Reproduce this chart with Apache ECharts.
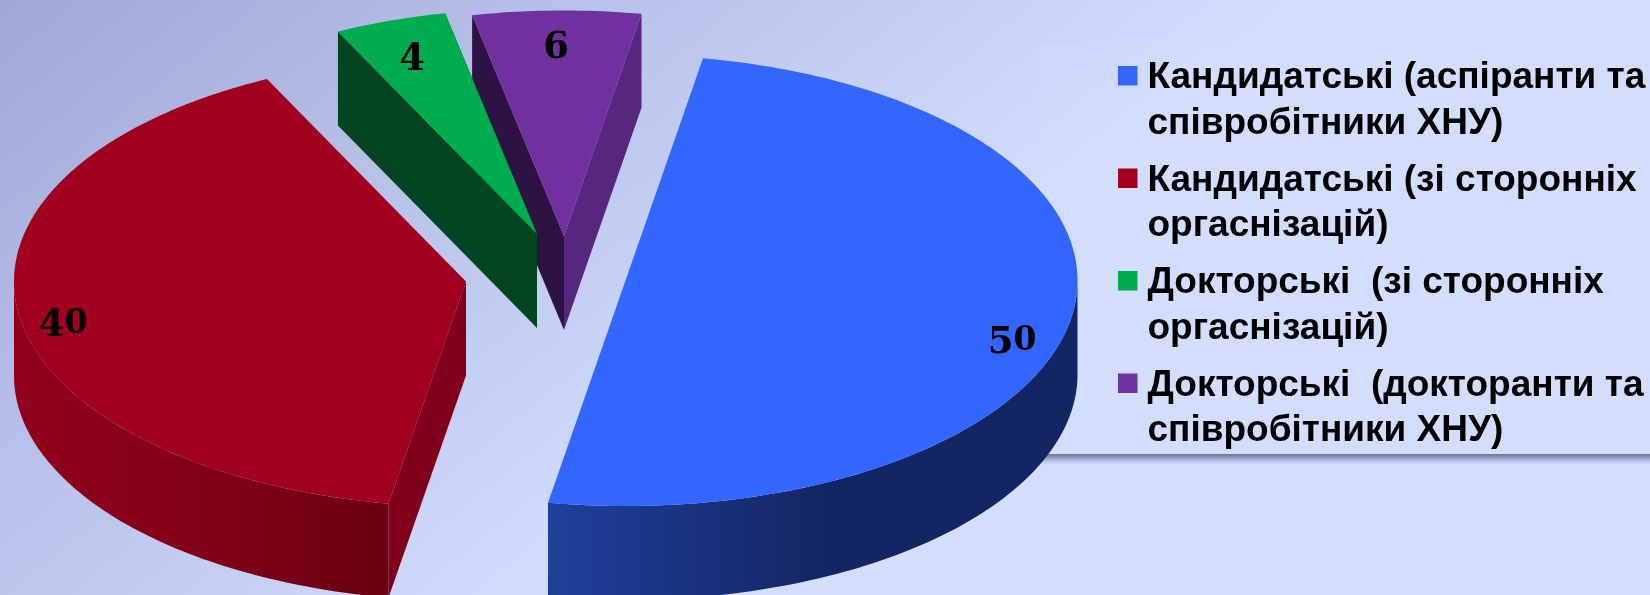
<!DOCTYPE html>
<html>
<head>
<meta charset="utf-8">
<style>html,body{margin:0;padding:0;background:#d3deff}#c{width:1650px;height:595px}</style>
<script src="https://cdn.jsdelivr.net/npm/echarts@6/dist/echarts.min.js"></script>
</head>
<body>
<div id="c"></div>
<script>
const categories = [
  'Кандидатські (аспіранти та\nспівробітники ХНУ)',
  'Кандидатські (зі сторонніх\nоргаснізацій)',
  'Докторські  (зі сторонніх\nоргаснізацій)',
  'Докторські  (докторанти та\nспівробітники ХНУ)'
];
const values = [50, 40, 4, 6];
const colors = ['#3366ff', '#a2001f', '#00ad4e', '#7030a0'];

// 3D projection of the pie
const FIRST_ANGLE = 9.87, RX = 452, RY = 225.5, DEPTH = 94;
const CENTERS = [[625.5, 280.5], [466, 281.5], [537, 234], [564, 236]];
const LABELS = [[1012, 343], [63, 326], [412, 60], [556, 48]];
const total = values.reduce((a, b) => a + b, 0);
const starts = values.map((_, i) => FIRST_ANGLE + values.slice(0, i).reduce((a, b) => a + b, 0) / total * 360);

function pt(c, deg, dy) {
  const r = deg * Math.PI / 180;
  return [c[0] + RX * Math.sin(r), c[1] - RY * Math.cos(r) + (dy || 0)];
}
function arc(c, a, b, dy) {
  const n = Math.max(2, Math.ceil(Math.abs(b - a))), out = [];
  for (let k = 0; k <= n; k++) out.push(pt(c, a + (b - a) * k / n, dy));
  return out;
}
function poly(points, fill) {
  return { type: 'polygon', shape: { points }, style: { fill, stroke: null } };
}
function radial(c, deg, fill) {
  const p = pt(c, deg);
  return poly([c, p, [p[0], p[1] + DEPTH], [c[0], c[1] + DEPTH]], fill);
}
function wall(c, a, b, stops) {
  const pts = arc(c, a, b).concat(arc(c, b, a, DEPTH));
  return poly(pts, new echarts.graphic.LinearGradient(0, 0, 1, 0, stops));
}
function labelText(i) {
  const s = String(values[i]);
  return s.split('').map(ch => (ch === '0' ? '{z|0}' : '{d|' + ch + '}')).join('');
}
const faces = [
  (c, a, b) => [wall(c, 90, b, [
    { offset: 0, color: '#1f409d' }, { offset: 0.52, color: '#142563' }, { offset: 1, color: '#142563' }
  ])],
  (c, a, b) => [wall(c, a, 270, [
    { offset: 0, color: '#92001c' }, { offset: 0.6, color: '#7e0018' }, { offset: 1, color: '#690012' }
  ]), radial(c, a, '#80001b')],
  (c, a, b) => [radial(c, b, '#034521'), radial(c, a, '#034521')],
  (c, a, b) => [radial(c, a, '#2d1344'), radial(c, b, '#57267f')]
];
function renderSlice(i) {
  return function (params, api) {
    const v = api.value(0);
    const a = starts[i], b = a + v / total * 360, c = CENTERS[i];
    const top = poly([c].concat(arc(c, a, b)), colors[i]);
    const lab = {
      type: 'text', x: LABELS[i][0], y: LABELS[i][1],
      style: {
        text: labelText(i), align: 'center', verticalAlign: 'middle',
        rich: {
          d: { fontFamily: 'DejaVu Serif', fontWeight: 'bold', fontSize: 37, fill: '#000', color: '#000' },
          z: { fontFamily: 'DejaVu Serif', fontWeight: 'bold', fontSize: 33, fill: '#000', color: '#000', verticalAlign: 'top' }
        }
      }
    };
    return { type: 'group', children: faces[i](c, a, b).concat([top, lab]) };
  };
}
const seriesZ = [3, 3, 3, 2];
const chart = echarts.init(document.getElementById('c'), null, { renderer: 'canvas' });
chart.setOption({
  animation: false,
  backgroundColor: new echarts.graphic.LinearGradient(0, 0, 510, 635, [
    { offset: 0, color: '#a0a8d7' }, { offset: 1, color: '#d3deff' }
  ], true),
  tooltip: { show: false },
  graphic: [
    { type: 'rect', z: 0, shape: { x: 1038, y: 45, width: 612, height: 409 },
      style: { fill: 'rgba(214,225,255,0.2)' } },
    { type: 'rect', z: 0, shape: { x: 1040, y: 454, width: 610, height: 11 },
      style: { fill: new echarts.graphic.LinearGradient(0, 0, 0, 1, [
        { offset: 0, color: 'rgba(100,108,140,0.95)' }, { offset: 0.4, color: 'rgba(120,128,165,0.6)' }, { offset: 1, color: 'rgba(150,160,200,0)' }
      ]) } }
  ],
  legend: {
    orient: 'vertical', left: 1118, top: 55.5, padding: 0,
    itemWidth: 24.5, itemHeight: 70, itemGap: 11.5,
    selectedMode: false,
    icon: 'path://M0 0H19.5V19.5H0Z M24.5 70L24.5 70.01L24.49 70Z',
    textStyle: {
      fontFamily: 'Liberation Sans', fontWeight: 'bold', fontSize: 37, lineHeight: 45.5, color: '#000'
    },
    data: categories
  },
  series: categories.map((name, i) => ({
    type: 'custom', name, coordinateSystem: 'none', silent: true, z: seriesZ[i],
    itemStyle: { color: colors[i] },
    renderItem: renderSlice(i),
    data: [[values[i]]]
  }))
});
</script>
</body>
</html>
